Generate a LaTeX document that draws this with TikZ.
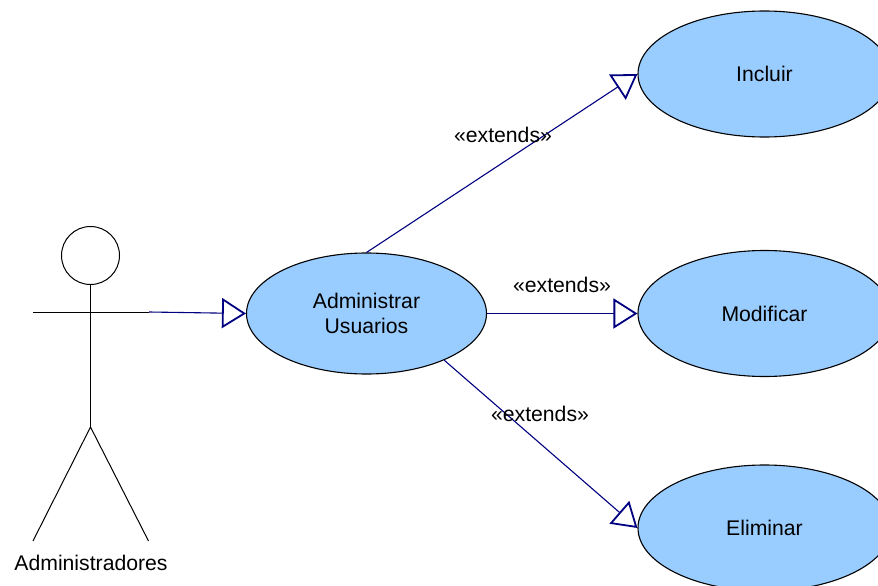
\documentclass[tikz,border=0pt]{standalone}
\usepackage{fontspec}
\setmainfont{Liberation Sans}
\usetikzlibrary{arrows.meta,shapes.geometric}
\definecolor{casefill}{HTML}{99CCFF}
\definecolor{linkblue}{HTML}{000080}
\tikzset{>=stealth}
\begin{document}
\begin{tikzpicture}[x=1pt,y=-1pt,
    font=\fontsize{21.2}{25}\selectfont,
    usecase/.style={draw=black,line width=1.1pt,fill=casefill,ellipse,inner sep=0pt,
      minimum width=253pt,minimum height=126pt,align=center},
    link/.style={draw=linkblue,line width=1.1pt,
      -{Triangle[open,length=24pt,width=30pt,line width=1.8pt,fill=white]}},
    stick/.style={draw=black,line width=1pt}]

% the page, the last ellipses run over its edge
\clip (0,0) rectangle (878,586);

% actor
\node[circle,stick,inner sep=0pt,minimum size=58pt] (head) at (90.5,255.5) {};
\coordinate (armL) at (33,312);
\coordinate (armR) at (149,312);
\coordinate (hip) at (90.5,427);
\coordinate (footL) at (33,541);
\coordinate (footR) at (148.5,541);
\draw[stick] (head.south) -- (hip);
\draw[stick] (armL) -- (armR);
\draw[stick] (footL) -- (hip) -- (footR);
\node (actor) at (91,563) {Administradores};

% use cases
\node[usecase,minimum width=240pt,minimum height=121pt] (admin) at (366.5,313.5) {Administrar\\Usuarios};
\node[usecase] (incluir) at (764.5,74) {Incluir};
\node[usecase] (modificar) at (764.5,313.5) {Modificar};
\node[usecase] (eliminar) at (764.5,528) {Eliminar};

% links
\draw[link] (armR) -- (admin.west);
\draw[link] (admin.north) -- (incluir.west);
\draw[link] (admin.east) -- (modificar.west);
\draw[link] (admin.-31) -- (eliminar.west);

% stereotypes
\node (extA) at (503,135) {«extends»};
\node (extB) at (562,285) {«extends»};
\node (extC) at (540,414) {«extends»};
\end{tikzpicture}
\end{document}
